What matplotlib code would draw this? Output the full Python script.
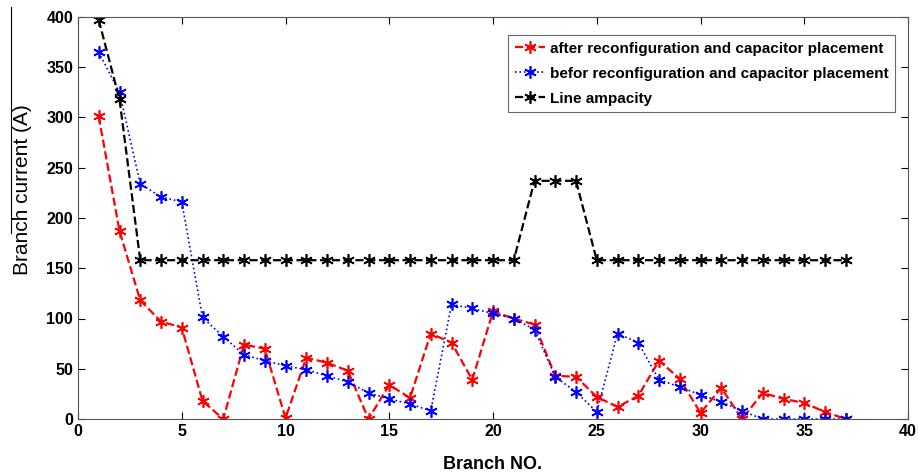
import numpy as np
import matplotlib
matplotlib.use('Agg')
import matplotlib.pyplot as plt
from matplotlib.lines import Line2D

plt.rcParams['font.family'] = ['Liberation Sans', 'DejaVu Sans']

branches = list(range(1, 38))

after_cur = [301, 187, 118, 97, 91, 18, 0, 74, 70, 1,
             61, 56, 48, 0, 34, 21, 85, 76, 39, 107,
             100, 94, 43, 42, 22, 12, 23, 58, 40, 6,
             31, 0, 26, 20, 16, 7, 0]

before_cur = [365, 325, 234, 221, 216, 101, 82, 64, 58, 53,
              49, 43, 37, 26, 20, 15, 8, 114, 110, 105,
              100, 89, 42, 27, 7, 85, 76, 39, 32, 24,
              17, 8, 0, 0, 0, 0, 0]

ampacity = [397, 318] + [158] * 19 + [237, 237, 237] + [158] * 13

labels = ['after reconfiguration and capacitor placement',
          'befor reconfiguration and capacitor placement',
          'Line ampacity']

star = (6, 2, 0)

fig = plt.figure(figsize=(9.19, 4.72), dpi=100)
ax = fig.add_axes([78 / 919, 53 / 472, 830 / 919, 402 / 472])

ax.plot(branches, after_cur, color='red', linestyle='--', linewidth=1.6,
        marker=star, markersize=9, markeredgewidth=1.2, label=labels[0])
ax.plot(branches, before_cur, color='blue', linestyle=':', linewidth=1.2,
        marker=star, markersize=9, markeredgewidth=1.2, label=labels[1])
ax.plot(branches, ampacity, color='black', linestyle='--', linewidth=1.6,
        marker=star, markersize=9, markeredgewidth=1.2, label=labels[2])

ax.set_xlim(0, 40)
ax.set_ylim(0, 400)
ax.set_xticks(np.arange(0, 41, 5))
ax.set_yticks(np.arange(0, 401, 50))
ax.tick_params(direction='in', top=True, right=True, length=5, labelsize=11.5)
for lab in ax.get_xticklabels() + ax.get_yticklabels():
    lab.set_fontweight('bold')
for sp in ax.spines.values():
    sp.set_color('#555555')

ax.set_xlabel('Branch NO.', fontsize=13, fontweight='bold', labelpad=12)
ax.set_ylabel('Branch current (A)', fontsize=15)
ax.yaxis.set_label_coords(-0.056, 0.57)

leg = ax.legend(loc='upper right', bbox_to_anchor=(0.994, 0.975), fancybox=False,
                edgecolor='#444444', handlelength=2.0, handletextpad=0.3,
                borderpad=0.45, labelspacing=0.72,
                prop={'weight': 'bold', 'size': 11})
leg.get_frame().set_linewidth(0.8)

# stray line over the y label in the reference
fig.add_artist(Line2D([11 / 919, 11 / 919], [1 - 7 / 472, 1 - 233 / 472],
                      color='black', linewidth=0.8))

fig.savefig('out.png', dpi=100)
